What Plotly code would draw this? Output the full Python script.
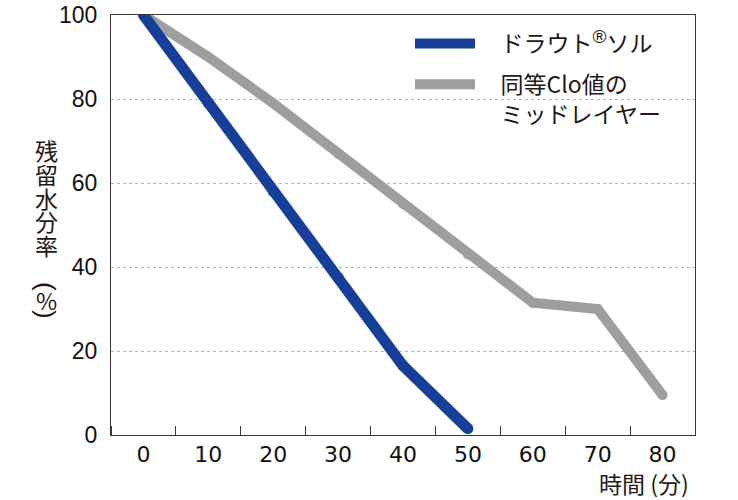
import plotly.graph_objects as go

# ---- data ----
drout_time = [0, 10, 20, 30, 40, 50]
drout_water = [100, 79, 58, 37.5, 16.5, 1.5]
mid_time = [0, 10, 20, 30, 40, 50, 60, 70, 80]
mid_water = [100, 90, 79, 67, 55, 43, 31.5, 30, 9.5]
x_tick_vals = [0, 10, 20, 30, 40, 50, 60, 70, 80]
y_tick_vals = [0, 20, 40, 60, 80, 100]
series_names = ["ドラウト<sup><span style='font-family:Liberation Sans;font-size:19px'>®</span></sup>ソル",
                "同等Clo値の<br>ミッドレイヤー"]
y_title_chars = ["残", "留", "水", "分", "率"]
y_title_unit = ["(", "%", ")"]
x_title = "時間 (分)"

BLUE = "#173f99"
GRAY = "#9d9f9e"
AXIS = "#3a3536"
JP = "Noto Sans CJK JP"
PAD = "\u00a0\u00a0\u00a0\u00a0"

W, H = 738, 500
ML, MR, MT, MB = 111, 43, 15, 65
PW, PH = W - ML - MR, H - MT - MB


def px_x(px):
    return (px - ML) / PW


def px_y(py):
    return (H - MB - py) / PH


fig = go.Figure()

# gray drawn first (under blue)
fig.add_trace(go.Scatter(x=mid_time, y=mid_water, mode="lines",
                         name=PAD + series_names[1].replace("<br>", "<br>" + PAD),
                         line=dict(color=GRAY, width=10), legendrank=2, legendgroup="g"))
fig.add_trace(go.Scatter(x=mid_time, y=mid_water, mode="markers", showlegend=False,
                         marker=dict(color=GRAY, size=10, line=dict(width=0)), hoverinfo="skip"))
fig.add_trace(go.Scatter(x=drout_time, y=drout_water, mode="lines", name=PAD + series_names[0],
                         line=dict(color=BLUE, width=11), legendrank=1, legendgroup="b"))
fig.add_trace(go.Scatter(x=drout_time, y=drout_water, mode="markers", showlegend=False,
                         marker=dict(color=BLUE, size=11, line=dict(width=0)), hoverinfo="skip"))

fig.update_xaxes(range=[-5, 85], tickvals=x_tick_vals, ticks="", showgrid=False, zeroline=False,
                 showline=True, linecolor=AXIS, linewidth=1, mirror=True, automargin=False,
                 tickfont=dict(family="DejaVu Sans", size=22, color="#111"),
                 ticklabelstandoff=0,
                 minor=dict(tick0=5, dtick=10, ticks="inside", ticklen=9, tickwidth=1,
                            tickcolor=AXIS, showgrid=False))
fig.update_yaxes(range=[0, 100], tickvals=y_tick_vals, ticks="", showgrid=True,
                 gridcolor="#b5b5b5", griddash="dot", gridwidth=1, zeroline=False,
                 showline=True, linecolor=AXIS, linewidth=1, mirror=True, automargin=False,
                 tickfont=dict(family="Liberation Sans", size=23, color="#111"),
                 ticklabelstandoff=8)

annotations = []
# vertical y-axis title, one character per row
y_centers = [150, 174, 197.5, 221, 245]
for ch, yc in zip(y_title_chars, y_centers):
    annotations.append(dict(text=ch, xref="paper", yref="paper", x=px_x(46), y=px_y(yc),
                            xanchor="center", yanchor="middle", showarrow=False,
                            font=dict(family=JP, size=23, color="#231815")))
# unit in vertical writing: rotated parentheses around %
unit_centers = [286, 300, 314]
unit_angles = [90, 0, 90]
unit_sizes = [26, 23, 26]
for ch, yc, ang, sz in zip(y_title_unit, unit_centers, unit_angles, unit_sizes):
    annotations.append(dict(text=ch, xref="paper", yref="paper", x=px_x(46), y=px_y(yc),
                            xanchor="center", yanchor="middle", showarrow=False, textangle=ang,
                            font=dict(family="Liberation Sans" if ch != "%" else JP,
                                      size=sz, color="#231815")))
annotations.append(dict(text=x_title, xref="paper", yref="paper", x=px_x(691), y=px_y(483),
                        xanchor="right", yanchor="middle", showarrow=False,
                        font=dict(family=JP, size=23, color="#231815")))

fig.update_layout(
    width=W, height=H,
    margin=dict(l=ML, r=MR, t=MT, b=MB),
    plot_bgcolor="white", paper_bgcolor="white",
    annotations=annotations,
    legend=dict(x=px_x(410), y=px_y(22), xanchor="left", yanchor="top",
                font=dict(family=JP, size=23, color="#231815"),
                bgcolor="rgba(0,0,0,0)", itemwidth=60, valign="top",
                traceorder="grouped", tracegroupgap=8),
    showlegend=True,
)

fig.write_html("out.html", config={"displayModeBar": False},
               post_script="document.body.style.margin='0';document.body.style.padding='0';")
